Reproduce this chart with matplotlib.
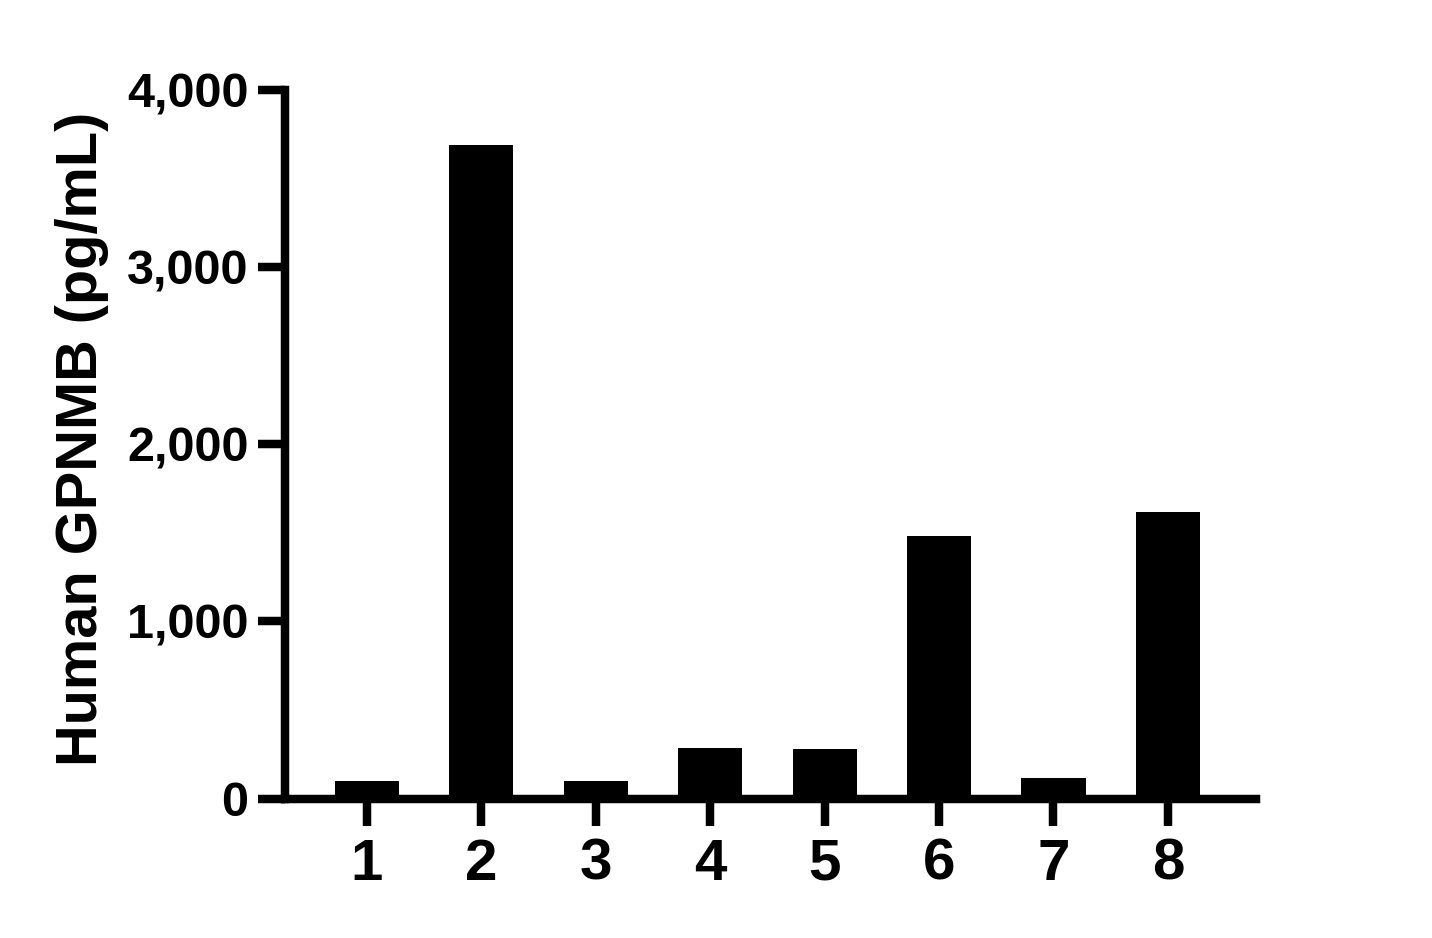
import numpy as np
import matplotlib
matplotlib.use('Agg')
import matplotlib.pyplot as plt
from matplotlib.ticker import StrMethodFormatter

# Data
samples = ['1', '2', '3', '4', '5', '6', '7', '8']
gpnmb = [98, 3692, 98, 284, 280, 1483, 116, 1620]
yticks = [0, 1000, 2000, 3000, 4000]

plt.rcParams['font.family'] = ['Liberation Sans', 'DejaVu Sans']
plt.rcParams['font.weight'] = 'bold'

fig = plt.figure(figsize=(14.32, 9.38), dpi=100)
ax = fig.add_axes([285/1432, 139.5/938, (1256-285)/1432, (798.5-90.5)/938])

x = np.arange(1, len(samples)+1)
ax.bar(x, gpnmb, width=0.56, color='black', zorder=1)

ax.set_xlim(0.283, 8.77)
ax.set_ylim(0, 4000)
ax.set_xticks(x)
ax.set_xticklabels(samples)
ax.set_yticks(yticks)
ax.yaxis.set_major_formatter(StrMethodFormatter('{x:,.0f}'))

lw = 6.1
for side in ['top', 'right']:
    ax.spines[side].set_visible(False)
for side in ['left', 'bottom']:
    ax.spines[side].set_linewidth(lw)
    ax.spines[side].set_zorder(3)
ax.spines['left'].set_capstyle('projecting')

ax.tick_params(axis='both', direction='out', length=19.3, width=lw, color='black')
ax.tick_params(axis='y', labelsize=35, pad=7)
ax.tick_params(axis='x', labelsize=42, pad=9)
for lab in ax.get_xticklabels() + ax.get_yticklabels():
    lab.set_fontweight('bold')

ax.set_ylabel('Human GPNMB (pg/mL)', fontsize=41.6, fontweight='bold')
ax.yaxis.set_label_coords(-0.181, 0.508)

fig.savefig('out.png', dpi=100)
